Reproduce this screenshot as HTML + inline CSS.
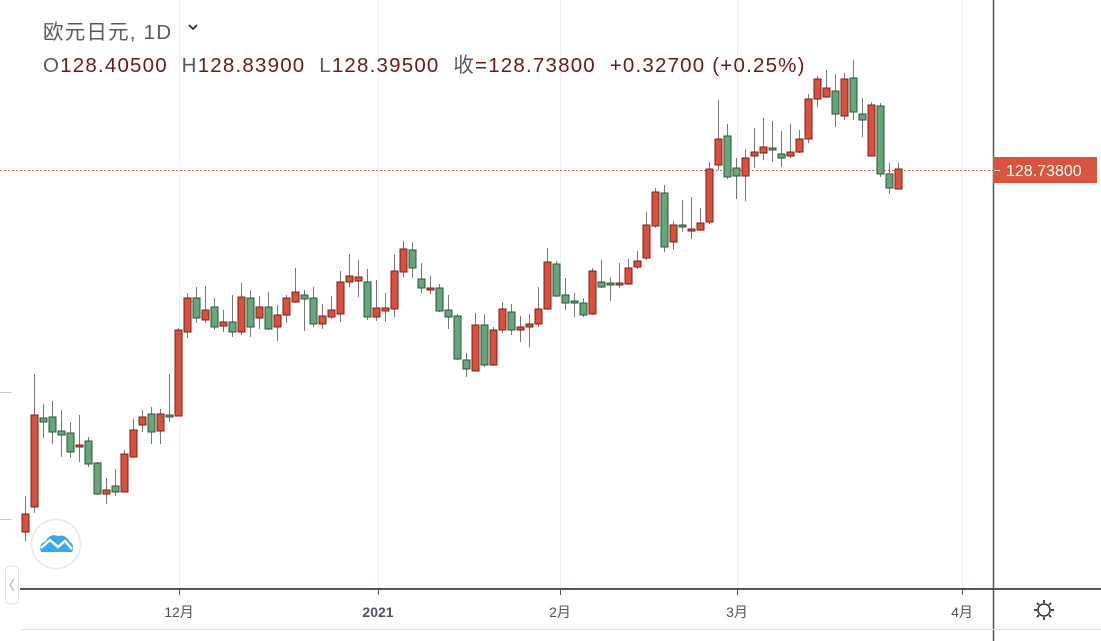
<!DOCTYPE html>
<html><head><meta charset="utf-8"><style>
body{margin:0;width:1101px;height:641px;background:#fff;overflow:hidden;position:relative;font-family:"Liberation Sans","Noto Sans CJK SC",sans-serif}
.t{position:absolute;white-space:pre;font-size:20.5px;letter-spacing:1.2px}
.g{color:#555a66}.r{color:#6b1a17}
</style></head><body>
<svg width="1101" height="641" style="position:absolute;left:0;top:0">
<g stroke="#e9eff5" stroke-width="1">
<line x1="179.5" y1="0" x2="179.5" y2="589"/><line x1="378.5" y1="0" x2="378.5" y2="589"/><line x1="560.5" y1="0" x2="560.5" y2="589"/><line x1="737.5" y1="0" x2="737.5" y2="589"/><line x1="962.5" y1="0" x2="962.5" y2="589"/>
</g>
<line x1="0" y1="392.5" x2="12" y2="392.5" stroke="#ccc"/>
<line x1="0" y1="519.5" x2="12" y2="519.5" stroke="#ccc"/>
<line x1="0" y1="170.5" x2="993" y2="170.5" stroke="#e0584a" stroke-dasharray="2,2"/>
<g id="c"></g>
<line x1="20" y1="589" x2="1101" y2="589" stroke="#50535e" stroke-width="2"/>
<line x1="993.5" y1="0" x2="993.5" y2="641" stroke="#50535e" stroke-width="1.5"/>
<line x1="20" y1="629.5" x2="1101" y2="629.5" stroke="#e0e3eb"/>
<g stroke="#50535e"><line x1="179.5" y1="589" x2="179.5" y2="595"/><line x1="378.5" y1="589" x2="378.5" y2="595"/><line x1="560.5" y1="589" x2="560.5" y2="595"/><line x1="737.5" y1="589" x2="737.5" y2="595"/><line x1="962.5" y1="589" x2="962.5" y2="595"/></g>
<rect x="993" y="157" width="104" height="26" fill="#d9533f"/>
<line x1="994" y1="170.5" x2="1000" y2="170.5" stroke="#fff"/>
<text x="1006" y="176" fill="#fff" font-size="16" font-family="Liberation Sans">128.73800</text>
<circle cx="56" cy="544" r="24.5" fill="#fff" stroke="#e6e6e6" stroke-width="1.5"/>
<path d="M41 552 Q38 544 46 541 Q50 533 58 536 Q66 534 70 542 Q75 545 72 552 Z" fill="#3aa5f0"/>
<path d="M41 548 L50 540 L58 547 L65 541 L72 549" stroke="#fff" stroke-width="2.5" fill="none"/>
<rect x="5.5" y="566" width="13" height="38" rx="5" fill="#fff" stroke="#dde1e8"/>
<path d="M14 579 L10 585 L14 591" stroke="#9aa" fill="none"/>
<g transform="translate(1044,610)" stroke="#333" stroke-width="1.5" fill="none"><circle r="6"/><g stroke-width="1.8"><line x1="0" y1="-10" x2="0" y2="-7"/><line x1="0" y1="7" x2="0" y2="10"/><line x1="-10" y1="0" x2="-7" y2="0"/><line x1="7" y1="0" x2="10" y2="0"/><line x1="-7" y1="-7" x2="-5" y2="-5"/><line x1="5" y1="5" x2="7" y2="7"/><line x1="-7" y1="7" x2="-5" y2="5"/><line x1="5" y1="-5" x2="7" y2="-7"/></g></g>
<g font-family="Liberation Sans,Noto Sans CJK SC,sans-serif" font-size="14" fill="#50535e" text-anchor="middle">
<text x="179" y="617">12月</text><text x="378" y="617" font-weight="bold">2021</text><text x="560" y="617">2月</text><text x="737" y="617">3月</text><text x="962" y="617">4月</text></g>
</svg>
<div class="t g" style="left:43px;top:15px">欧元日元, 1D</div>
<svg style="position:absolute;left:187px;top:22px" width="12" height="10"><path d="M2 3 L6 7 L10 3" stroke="#222" stroke-width="1.6" fill="none"/></svg>
<div class="t" style="left:43px;top:48px"><span class="g">O</span><span class="r">128.40500</span>  <span class="g">H</span><span class="r">128.83900</span>  <span class="g">L</span><span class="r">128.39500</span>  <span class="g">收</span><span class="r">=128.73800  +0.32700 (+0.25%)</span></div>
<script>
var d=[[25,'r',496,541,514,532],[34,'r',374,513,415,507],[43,'g',404,438,418,422],[52,'g',401,444,417,432],[61,'g',410,457,431,435],[70,'g',422,458,433,452],[79,'r',415,462,445,447],[88,'g',437,467,441,464],[97,'g',462,495,463,494],[106,'r',478,504,490,494],[115,'g',469,496,486,492],[124,'r',450,492,454,492],[133,'r',419,458,430,457],[142,'r',410,432,417,425],[151,'g',407,444,414,432],[160,'r',409,444,414,431],[169,'g',374,422,415,417],[178,'r',328,416,330,416],[187,'r',293,338,298,332],[196,'g',287,323,298,318],[205,'r',286,323,310,320],[214,'g',298,330,307,327],[223,'r',310,332,322,326],[232,'g',295,337,322,332],[241,'r',283,335,297,332],[250,'g',290,337,298,327],[259,'r',296,329,307,318],[268,'g',292,330,307,329],[277,'r',305,341,315,327],[286,'r',295,323,298,315],[295,'r',268,303,292,302],[304,'g',290,331,295,299],[313,'g',287,327,298,324],[322,'r',304,329,316,324],[331,'r',296,319,310,317],[340,'r',271,322,282,314],[349,'r',254,287,276,282],[358,'r',260,297,277,281],[367,'g',269,320,282,317],[376,'r',280,321,308,317],[385,'r',293,322,308,311],[394,'r',254,317,271,309],[403,'r',241,277,249,272],[412,'g',242,278,250,268],[421,'g',263,293,279,288],[430,'r',276,294,288,290],[439,'g',284,312,288,311],[448,'g',295,329,310,317],[457,'g',314,360,316,359],[466,'g',353,377,360,369],[475,'r',313,371,325,371],[484,'g',314,367,325,365],[493,'r',327,366,330,365],[502,'r',302,333,309,330],[511,'g',304,335,312,330],[520,'r',316,342,327,330],[529,'r',314,347,324,327],[538,'r',287,327,309,324],[547,'r',248,310,262,309],[556,'g',261,297,264,296],[565,'g',278,310,295,303],[574,'g',293,317,301,303],[583,'g',298,317,303,315],[592,'r',268,315,271,314],[601,'g',260,288,282,287],[610,'g',277,301,283,285],[619,'r',263,288,283,285],[628,'r',259,285,268,284],[637,'r',251,269,261,267],[646,'r',212,260,225,258],[655,'r',188,228,192,226],[664,'g',185,252,193,247],[673,'r',221,250,225,242],[682,'g',200,232,225,227],[691,'r',197,239,229,231],[700,'r',208,231,223,230],[709,'r',162,224,169,222],[718,'r',100,170,139,165],[727,'g',124,179,136,177],[736,'g',158,199,168,176],[745,'r',149,201,158,176],[754,'r',128,168,152,156],[763,'r',118,160,147,153],[772,'g',121,162,148,150],[781,'g',131,167,154,158],[790,'r',124,158,152,156],[799,'r',130,153,139,152],[808,'r',94,143,99,139],[817,'r',76,107,79,99],[826,'r',70,98,88,97],[835,'g',74,127,91,114],[844,'r',73,120,79,116],[853,'g',60,120,78,112],[862,'g',98,137,114,120],[871,'r',102,156,105,156],[880,'g',103,177,106,174],[889,'g',163,194,174,188],[898,'r',163,189,169,189]];
var s='';d.forEach(function(c){var x=c[0],f=c[1]=='r'?'#d9503f':'#6aa47c',b=c[1]=='r'?'#7a1f1a':'#1f5a36';
s+='<line x1="'+(x+.5)+'" y1="'+c[2]+'" x2="'+(x+.5)+'" y2="'+c[3]+'" stroke="#777"/>';
var h=Math.max(c[5]-c[4],2);s+='<rect x="'+(x-3)+'" y="'+c[4]+'" width="7" height="'+h+'" fill="'+f+'" stroke="'+b+'" stroke-width="1"/>';});
document.getElementById('c').innerHTML=s;
</script>
</body></html>
